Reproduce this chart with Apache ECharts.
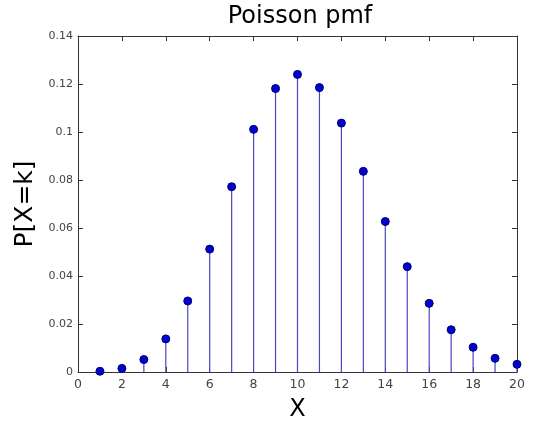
<!DOCTYPE html>
<html><head><meta charset="utf-8">
<script src="https://cdn.jsdelivr.net/npm/echarts@6/dist/echarts.min.js"></script>
<style>html,body{margin:0;padding:0;background:#fff}#c{width:533px;height:427px}</style>
</head><body><div id="c"></div>
<script>
const kValues = [1,2,3,4,5,6,7,8,9,10,11,12,13,14,15,16,17,18,19,20];
const pValues = [0.0003,0.0015,0.0052,0.0138,0.0296,0.0512,0.0772,0.1011,0.1181,0.1240,0.1185,0.1037,0.0836,0.0627,0.0439,0.0286,0.0176,0.0103,0.0057,0.0032];
const titleText = 'Poisson pmf';
const xName = 'X';
const yName = 'P[X=k]';

const pts = kValues.map((k,i)=>[k,pValues[i]]);
const font = 'DejaVu Sans, Arial, sans-serif';
const chart = echarts.init(document.getElementById('c'));
const axisCommon = {
  type:'value',
  axisLine:{show:true,onZero:false,lineStyle:{color:'#333',width:1}},
  axisTick:{show:true,inside:true,length:5,lineStyle:{color:'#333'}},
  splitLine:{show:false}
};
chart.setOption({
  animation:false,
  title:{text:titleText,left:295,textAlign:'center',top:0,textStyle:{fontFamily:font,fontSize:24,fontWeight:'normal',color:'#000'}},
  grid:{left:78,right:16,top:36,bottom:52},
  xAxis:[
    Object.assign({},axisCommon,{min:0,max:20,interval:2,position:'bottom',
      name:xName,nameLocation:'middle',nameGap:26,nameTextStyle:{fontFamily:font,fontSize:24,color:'#000'},
      axisLabel:{fontFamily:font,fontSize:12.5,color:'#444',margin:6}}),
    Object.assign({},axisCommon,{min:0,max:20,interval:2,position:'top',axisLabel:{show:false}})
  ],
  yAxis:[
    Object.assign({},axisCommon,{min:0,max:0.14,interval:0.02,position:'left',
      name:yName,nameLocation:'middle',nameGap:39,nameTextStyle:{fontFamily:font,fontSize:25,color:'#000'},
      axisLabel:{fontFamily:font,fontSize:11,color:'#444',margin:5}}),
    Object.assign({},axisCommon,{min:0,max:0.14,interval:0.02,position:'right',axisLabel:{show:false}})
  ],
  series:[
    {type:'custom',data:pts,renderItem:function(params,api){
      const a=api.coord([api.value(0),0]);
      const b=api.coord([api.value(0),api.value(1)]);
      return {type:'line',shape:{x1:a[0],y1:a[1],x2:b[0],y2:b[1]},style:{stroke:'#4848c0',lineWidth:1.2}};
    },z:1},
    {type:'scatter',data:pts,symbol:'circle',symbolSize:8,itemStyle:{color:'#0000d8',borderColor:'#000060',borderWidth:1,opacity:1},z:2}
  ]
});
</script></body></html>
